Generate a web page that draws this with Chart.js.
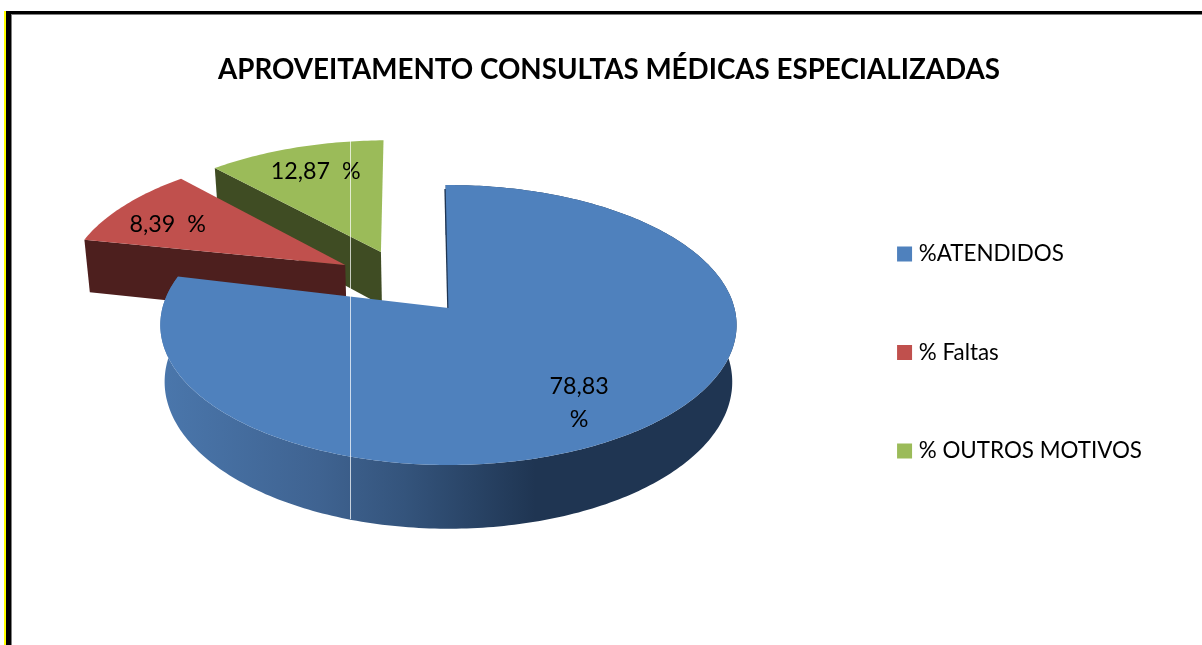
<!DOCTYPE html>
<html><head><meta charset="utf-8">
<style>
html,body{margin:0;padding:0;background:#fff;overflow:hidden}
canvas{position:absolute;left:0;top:0}
.f{position:absolute}
</style>
<script src="https://cdn.jsdelivr.net/npm/chart.js@4/dist/chart.umd.min.js"></script>
</head><body>
<canvas id="c" width="1202" height="645"></canvas>
<div class="f" style="left:4px;top:11px;width:2px;bottom:0;background:#ff0"></div>
<div class="f" style="left:6px;top:11px;width:5px;bottom:0;background:#000"></div>
<div class="f" style="left:6px;top:11px;right:0;height:3px;background:#000"></div>
<div class="f" style="left:11px;top:14px;right:0;height:1px;background:#808080"></div>
<div class="f" style="left:11px;top:14px;width:1px;bottom:0;background:#808080"></div>
<script>
const titleText = 'APROVEITAMENTO CONSULTAS MÉDICAS ESPECIALIZADAS';
const categories = ['%ATENDIDOS', '% Faltas', '% OUTROS MOTIVOS'];
const values = [78.83, 8.39, 12.87];
const faceColors = ['#4f81bd', '#c0504d', '#9bbb59'];
const wallColors = ['#1f3552', '#4d1f1e', '#3f4c23'];
const FONT = 'Lato, Carlito, sans-serif';

// 3D look of the pie (style only)
const view = {cx: 447, cy: 308, a: 286, b: 137.9, k: 0.1215, depth: 56, narrow: 0.985};
const explode = [[0.005, 0], [-0.37, -0.324], [-0.243, -0.427]];
const deg = Math.PI / 180;
const edgeTilt = [[-0.6 * deg, 0], [-1.8 * deg, 3.5 * deg], [3.2 * deg, -1 * deg]];
const labelNudge = [[-14.5, 6], [-5.5, 4], [5, 0]];

function project(X, Y, low) {
  const w = 1 - view.k * Y;
  const xs = view.a * X / w * (low ? view.narrow : 1);
  const ys = (view.b * Y + (low ? view.depth : 0)) / w;
  return [view.cx + xs, view.cy + ys];
}
function arcPts(i, s, e, low) {
  const pts = [], n = Math.max(8, Math.ceil((e - s) * 60));
  const [ox, oy] = explode[i];
  for (let j = 0; j <= n; j++) {
    const t = s + (e - s) * j / n;
    pts.push(project(ox + Math.cos(t), oy + Math.sin(t), low));
  }
  return pts;
}
function poly(ctx, pts, fill) {
  ctx.beginPath();
  pts.forEach((p, i) => i ? ctx.lineTo(p[0], p[1]) : ctx.moveTo(p[0], p[1]));
  ctx.closePath();
  ctx.fillStyle = fill;
  ctx.fill();
}

const pie3d = {
  id: 'pie3d',
  beforeDatasetsDraw(chart) {
    const ctx = chart.ctx;
    const arcs = chart.getDatasetMeta(0).data;
    const ds = chart.data.datasets[0];
    ctx.save();
    [2, 1, 0].forEach(i => {
      const props = arcs[i].getProps(['startAngle', 'endAngle'], true);
      const s = props.startAngle + edgeTilt[i][0], e = props.endAngle + edgeTilt[i][1];
      const [ox, oy] = explode[i];
      const top = arcPts(i, s, e, false), low = arcPts(i, s, e, true);
      const cTop = project(ox, oy, false), cLow = project(ox, oy, true);
      if (i === 0) {
        const g = ctx.createLinearGradient(165, 0, 735, 0);
        g.addColorStop(0, '#4a76ab');
        g.addColorStop(0.27, '#3f6391');
        g.addColorStop(0.42, '#34547c');
        g.addColorStop(0.65, '#1f3552');
        g.addColorStop(1, '#1f3552');
        poly(ctx, top.concat(low.slice().reverse()), g);
        // dark inner edge along the notch
        ctx.beginPath();
        ctx.moveTo(top[0][0], top[0][1] + 4);
        ctx.lineTo(cTop[0], cTop[1]);
        ctx.strokeStyle = wallColors[0];
        ctx.lineWidth = 2.5;
        ctx.stroke();
      } else {
        poly(ctx, [cTop, top[0], low[0], cLow], wallColors[i]);
      }
      poly(ctx, [cTop].concat(top), ds.backgroundColor[i]);
    });
    // data labels
    ctx.fillStyle = '#000';
    ctx.font = '23.3px ' + FONT;
    ctx.textAlign = 'center';
    ctx.textBaseline = 'middle';
    arcs.forEach((arc, i) => {
      const {startAngle: s, endAngle: e} = arc.getProps(['startAngle', 'endAngle'], true);
      const m = (s + e) / 2;
      const [ox, oy] = explode[i];
      const p = project(ox + 0.76 * Math.cos(m), oy + 0.76 * Math.sin(m), false);
      const x = p[0] + labelNudge[i][0], y = p[1] + labelNudge[i][1];
      const num = values[i].toFixed(2).replace('.', ',');
      if (i === 0) {
        ctx.fillText(num, x, y - 16);
        ctx.fillText('%', x, y + 17);
      } else {
        ctx.fillText(num + '  %', x, y);
      }
    });
    // thin light vertical line crossing the pie
    ctx.fillStyle = 'rgba(255,255,255,0.72)';
    ctx.fillRect(350, 140, 1, 379);
    ctx.restore();
    return false;
  }
};

new Chart(document.getElementById('c'), {
  type: 'pie',
  data: {
    labels: categories,
    datasets: [{
      data: values,
      backgroundColor: faceColors,
      borderColor: faceColors,
      borderWidth: 9
    }]
  },
  plugins: [pie3d],
  options: {
    responsive: false,
    animation: false,
    layout: {padding: {left: 66, right: 50, top: 0, bottom: -60}},
    plugins: {
      tooltip: {enabled: false},
      title: {
        display: true,
        text: titleText,
        color: '#000',
        font: {family: FONT, size: 27.75, weight: 'bold'},
        padding: {top: 53, bottom: 10}
      },
      legend: {
        display: true,
        position: 'right',
        labels: {
          color: '#000',
          font: {family: FONT, size: 22.4},
          boxWidth: 6,
          boxHeight: 6,
          padding: 76
        }
      }
    }
  }
});
</script>
</body></html>
